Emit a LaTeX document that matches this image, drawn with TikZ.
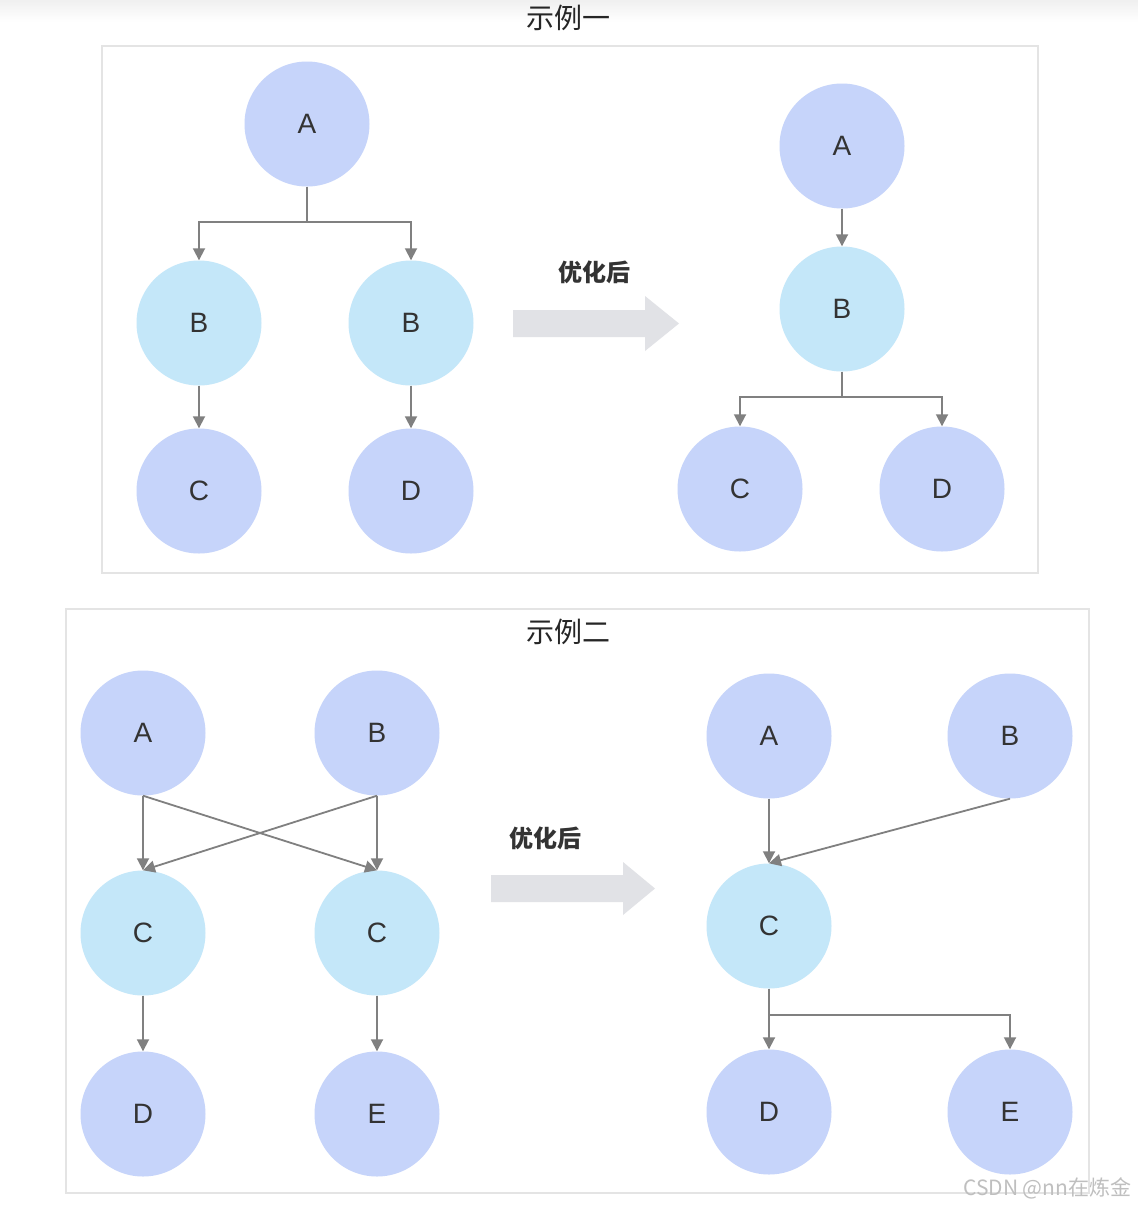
\documentclass[tikz,border=0pt]{standalone}
\usepackage{fontspec}
\setmainfont{Liberation Sans}
\newfontfamily\cjk{Noto Sans CJK SC}
\usetikzlibrary{arrows.meta}
\definecolor{nodeP}{RGB}{198,212,250}
\definecolor{nodeB}{RGB}{196,231,249}
\definecolor{lineG}{RGB}{128,128,128}
\definecolor{boxG}{RGB}{228,228,228}
\definecolor{bigArr}{RGB}{225,226,230}
\definecolor{txtG}{RGB}{51,51,51}
\begin{document}
\begin{tikzpicture}[x=1pt,y=-1pt,
  circP/.style={circle,fill=nodeP,minimum size=125pt,inner sep=0pt,text=txtG,font=\fontsize{28}{32}\selectfont},
  circB/.style={circle,fill=nodeB,minimum size=125pt,inner sep=0pt,text=txtG,font=\fontsize{28}{32}\selectfont},
  arr/.style={draw=lineG,line width=1.8pt,-{Triangle[width=12pt,length=12pt]}},
  ln/.style={draw=lineG,line width=1.8pt},
  frame/.style={draw=boxG,line width=2.2pt},
  title/.style={font=\cjk\fontsize{28}{32}\selectfont,text=black!85},
  lbl/.style={font=\cjk\bfseries\fontsize{24}{28}\selectfont,text=black!80},
  bigarrow/.style={fill=bigArr}
]
\useasboundingbox (0,0) rectangle (1138,1208);
\fill[white] (0,0) rectangle (1138,1208);
\shade[top color=black!6,bottom color=white] (0,0) rectangle (1138,22);

% ---------- Example 1 ----------
\node[title] (t1) at (568,18) {示例一};
\draw[frame] (102,46) rectangle (1038,573);

\node[circP] (A1) at (307,124) {A};
\node[circB] (B1) at (199,323) {B};
\node[circB] (B2) at (411,323) {B};
\node[circP] (C1) at (199,491) {C};
\node[circP] (D1) at (411,491) {D};
\coordinate (j1) at (307,222);
\draw[ln] (A1) -- (j1);
\draw[arr] (j1) -| (B1);
\draw[arr] (j1) -| (B2);
\draw[arr] (B1) -- (C1);
\draw[arr] (B2) -- (D1);

\node[lbl] (o1) at (594,272) {优化后};
\fill[bigarrow] (513,310) -- (645,310) -- (645,296) -- (679,323.5) -- (645,351) -- (645,337) -- (513,337) -- cycle;

\node[circP] (A1r) at (842,146) {A};
\node[circB] (B1r) at (842,309) {B};
\node[circP] (C1r) at (740,489) {C};
\node[circP] (D1r) at (942,489) {D};
\coordinate (j2) at (842,397);
\draw[arr] (A1r) -- (B1r);
\draw[ln] (B1r) -- (j2);
\draw[arr] (j2) -| (C1r);
\draw[arr] (j2) -| (D1r);

% ---------- Example 2 ----------
\draw[frame] (66,609) rectangle (1089,1193);
\node[title] (t2) at (568,632) {示例二};

\node[circP] (A2) at (143,733) {A};
\node[circP] (B3) at (377,733) {B};
\node[circB] (C2) at (143,933) {C};
\node[circB] (C3) at (377,933) {C};
\node[circP] (D2) at (143,1114) {D};
\node[circP] (E2) at (377,1114) {E};
\draw[arr] (A2.south) -- (C2.north);
\draw[arr] (A2.south) -- (C3.north);
\draw[arr] (B3.south) -- (C2.north);
\draw[arr] (B3.south) -- (C3.north);
\draw[arr] (C2) -- (D2);
\draw[arr] (C3) -- (E2);

\node[lbl] (o2) at (545,838) {优化后};
\fill[bigarrow] (491,875) -- (623,875) -- (623,862) -- (655,888.5) -- (623,915) -- (623,902) -- (491,902) -- cycle;

\node[circP] (A3) at (769,736) {A};
\node[circP] (B4) at (1010,736) {B};
\node[circB] (C4) at (769,926) {C};
\node[circP] (D3) at (769,1112) {D};
\node[circP] (E3) at (1010,1112) {E};
\draw[arr] (A3.south) -- (C4.north);
\draw[arr] (B4.south) -- (C4.north);
\coordinate (j3) at (769,1015);
\draw[arr] (C4) -- (D3);
\draw[arr] (j3) -| (E3);

\node[font=\cjk\fontsize{21}{24}\selectfont,text=black!25,anchor=east] (wm) at (1135,1188) {CSDN @nn在炼金};
\end{tikzpicture}
\end{document}
